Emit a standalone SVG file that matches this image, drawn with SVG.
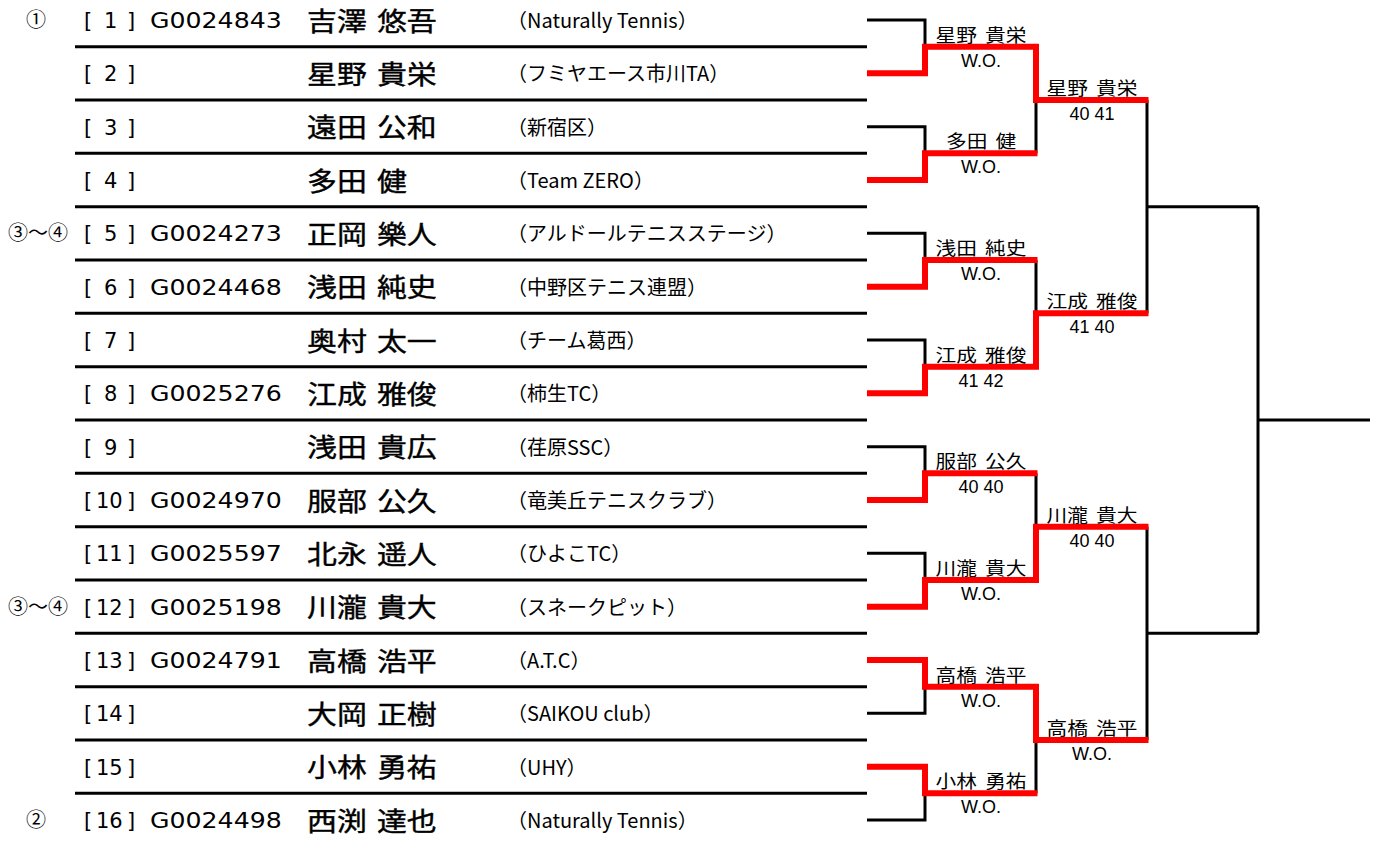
<svg xmlns="http://www.w3.org/2000/svg" width="1381" height="845" viewBox="0 0 1381 845">
<style>
.row{stroke:#000;stroke-width:3;fill:none}
.blk{stroke:#000;stroke-width:3;fill:none;stroke-linejoin:miter}
.win{stroke:#f00;stroke-width:6;fill:none;stroke-linejoin:miter}
.seed{font-family:"DejaVu Sans","Liberation Sans",sans-serif;font-size:21px;fill:#000}
.id{font-family:"DejaVu Sans","Liberation Sans",sans-serif;font-size:21px;fill:#000}
.nm{font-family:"Noto Sans CJK JP",sans-serif;font-size:26px;font-weight:normal;word-spacing:3px;fill:#000;stroke:#000;stroke-width:0.4}
.club{font-family:"Noto Sans CJK JP",sans-serif;font-size:20px;fill:#000}
.circ{font-family:"Noto Sans CJK JP",sans-serif;font-size:20px;text-anchor:middle;fill:#000}
.bn{font-family:"Noto Sans CJK JP",sans-serif;font-size:18px;text-anchor:middle;word-spacing:3px;fill:#000}
.sc{font-family:"Liberation Sans",Arial,sans-serif;font-size:18px;text-anchor:middle;fill:#000}
</style>
<rect width="1381" height="845" fill="#fff"/>

<g id="p1"><text class="circ" x="36" y="27">①</text><text class="seed" y="28"><tspan x="84">[</tspan><tspan x="104">1</tspan><tspan x="127">]</tspan></text><text class="id" transform="matrix(1.2 0 0 1 150 28)">G0024843</text><text class="nm" transform="matrix(1.15 0 0 1 307 30.5)">吉澤 悠吾</text><text class="club" x="507" y="28">（Naturally Tennis）</text><line class="row" x1="75" y1="46.7" x2="867" y2="46.7"/></g>
<g id="p2"><text class="seed" y="81.3"><tspan x="84">[</tspan><tspan x="104">2</tspan><tspan x="127">]</tspan></text><text class="nm" transform="matrix(1.15 0 0 1 307 83.8)">星野 貴栄</text><text class="club" x="507" y="81.3">（フミヤエース市川TA）</text><line class="row" x1="75" y1="100" x2="867" y2="100"/></g>
<g id="p3"><text class="seed" y="134.7"><tspan x="84">[</tspan><tspan x="104">3</tspan><tspan x="127">]</tspan></text><text class="nm" transform="matrix(1.15 0 0 1 307 137.2)">遠田 公和</text><text class="club" x="507" y="134.7">（新宿区）</text><line class="row" x1="75" y1="153.3" x2="867" y2="153.3"/></g>
<g id="p4"><text class="seed" y="188"><tspan x="84">[</tspan><tspan x="104">4</tspan><tspan x="127">]</tspan></text><text class="nm" transform="matrix(1.15 0 0 1 307 190.5)">多田 健</text><text class="club" x="507" y="188">（Team ZERO）</text><line class="row" x1="75" y1="206.7" x2="867" y2="206.7"/></g>
<g id="p5"><text class="circ" x="38" y="240.3">③～④</text><text class="seed" y="241.3"><tspan x="84">[</tspan><tspan x="104">5</tspan><tspan x="127">]</tspan></text><text class="id" transform="matrix(1.2 0 0 1 150 241.3)">G0024273</text><text class="nm" transform="matrix(1.15 0 0 1 307 243.8)">正岡 樂人</text><text class="club" x="507" y="241.3">（アルドールテニスステージ）</text><line class="row" x1="75" y1="260" x2="867" y2="260"/></g>
<g id="p6"><text class="seed" y="294.7"><tspan x="84">[</tspan><tspan x="104">6</tspan><tspan x="127">]</tspan></text><text class="id" transform="matrix(1.2 0 0 1 150 294.7)">G0024468</text><text class="nm" transform="matrix(1.15 0 0 1 307 297.2)">浅田 純史</text><text class="club" x="507" y="294.7">（中野区テニス連盟）</text><line class="row" x1="75" y1="313.3" x2="867" y2="313.3"/></g>
<g id="p7"><text class="seed" y="348"><tspan x="84">[</tspan><tspan x="104">7</tspan><tspan x="127">]</tspan></text><text class="nm" transform="matrix(1.15 0 0 1 307 350.5)">奥村 太一</text><text class="club" x="507" y="348">（チーム葛西）</text><line class="row" x1="75" y1="366.7" x2="867" y2="366.7"/></g>
<g id="p8"><text class="seed" y="401.3"><tspan x="84">[</tspan><tspan x="104">8</tspan><tspan x="127">]</tspan></text><text class="id" transform="matrix(1.2 0 0 1 150 401.3)">G0025276</text><text class="nm" transform="matrix(1.15 0 0 1 307 403.8)">江成 雅俊</text><text class="club" x="507" y="401.3">（柿生TC）</text><line class="row" x1="75" y1="420" x2="867" y2="420"/></g>
<g id="p9"><text class="seed" y="454.7"><tspan x="84">[</tspan><tspan x="104">9</tspan><tspan x="127">]</tspan></text><text class="nm" transform="matrix(1.15 0 0 1 307 457.2)">浅田 貴広</text><text class="club" x="507" y="454.7">（荏原SSC）</text><line class="row" x1="75" y1="473.3" x2="867" y2="473.3"/></g>
<g id="p10"><text class="seed" y="508"><tspan x="84">[</tspan><tspan x="96">10</tspan><tspan x="127">]</tspan></text><text class="id" transform="matrix(1.2 0 0 1 150 508)">G0024970</text><text class="nm" transform="matrix(1.15 0 0 1 307 510.5)">服部 公久</text><text class="club" x="507" y="508">（竜美丘テニスクラブ）</text><line class="row" x1="75" y1="526.7" x2="867" y2="526.7"/></g>
<g id="p11"><text class="seed" y="561.3"><tspan x="84">[</tspan><tspan x="96">11</tspan><tspan x="127">]</tspan></text><text class="id" transform="matrix(1.2 0 0 1 150 561.3)">G0025597</text><text class="nm" transform="matrix(1.15 0 0 1 307 563.8)">北永 遥人</text><text class="club" x="507" y="561.3">（ひよこTC）</text><line class="row" x1="75" y1="580" x2="867" y2="580"/></g>
<g id="p12"><text class="circ" x="38" y="613.7">③～④</text><text class="seed" y="614.7"><tspan x="84">[</tspan><tspan x="96">12</tspan><tspan x="127">]</tspan></text><text class="id" transform="matrix(1.2 0 0 1 150 614.7)">G0025198</text><text class="nm" transform="matrix(1.15 0 0 1 307 617.2)">川瀧 貴大</text><text class="club" x="507" y="614.7">（スネークピット）</text><line class="row" x1="75" y1="633.3" x2="867" y2="633.3"/></g>
<g id="p13"><text class="seed" y="668"><tspan x="84">[</tspan><tspan x="96">13</tspan><tspan x="127">]</tspan></text><text class="id" transform="matrix(1.2 0 0 1 150 668)">G0024791</text><text class="nm" transform="matrix(1.15 0 0 1 307 670.5)">高橋 浩平</text><text class="club" x="507" y="668">（A.T.C）</text><line class="row" x1="75" y1="686.7" x2="867" y2="686.7"/></g>
<g id="p14"><text class="seed" y="721.3"><tspan x="84">[</tspan><tspan x="96">14</tspan><tspan x="127">]</tspan></text><text class="nm" transform="matrix(1.15 0 0 1 307 723.8)">大岡 正樹</text><text class="club" x="507" y="721.3">（SAIKOU club）</text><line class="row" x1="75" y1="740" x2="867" y2="740"/></g>
<g id="p15"><text class="seed" y="774.7"><tspan x="84">[</tspan><tspan x="96">15</tspan><tspan x="127">]</tspan></text><text class="nm" transform="matrix(1.15 0 0 1 307 777.2)">小林 勇祐</text><text class="club" x="507" y="774.7">（UHY）</text><line class="row" x1="75" y1="793.3" x2="867" y2="793.3"/></g>
<g id="p16"><text class="circ" x="36" y="827">②</text><text class="seed" y="828"><tspan x="84">[</tspan><tspan x="96">16</tspan><tspan x="127">]</tspan></text><text class="id" transform="matrix(1.2 0 0 1 150 828)">G0024498</text><text class="nm" transform="matrix(1.15 0 0 1 307 830.5)">西渕 達也</text><text class="club" x="507" y="828">（Naturally Tennis）</text></g>

<g id="connectors">
<path class="blk" d="M867 20H925V46.7M867 126.7H925V153.3M867 233.3H925V260M867 340H925V366.7M867 446.7H925V473.3M867 553.3H925V580M867 713.3H925V686.7M867 820H925V793.3"/>
<path class="blk" d="M1036 100V153.3M1036 260V313.3M1036 473.3V526.7M1036 740V793.3"/>
<path class="blk" d="M1147 100V313.3M1147 206.7H1258M1147 526.7V740M1147 633.3H1258M1258 206.7V633.3M1258 420H1370"/>
<path class="win" d="M867 73.3H925V46.7H1036V100H1148.5"/>
<path class="win" d="M867 180H925V153.3H1037.5"/>
<path class="win" d="M867 286.7H925V260H1037.5"/>
<path class="win" d="M867 393.3H925V366.7H1036V313.3H1148.5"/>
<path class="win" d="M867 500H925V473.3H1037.5"/>
<path class="win" d="M867 606.7H925V580H1036V526.7H1148.5"/>
<path class="win" d="M867 660H925V686.7H1036V740H1148.5"/>
<path class="win" d="M867 766.7H925V793.3H1037.5"/>
</g>

<g id="r1m1"><text class="bn" transform="matrix(1.15 0 0 1 981 41.7)">星野 貴栄</text><text class="sc" x="981" y="66.7">W.O.</text></g>
<g id="r1m2"><text class="bn" transform="matrix(1.15 0 0 1 981 148.3)">多田 健</text><text class="sc" x="981" y="173.3">W.O.</text></g>
<g id="r1m3"><text class="bn" transform="matrix(1.15 0 0 1 981 255)">浅田 純史</text><text class="sc" x="981" y="280">W.O.</text></g>
<g id="r1m4"><text class="bn" transform="matrix(1.15 0 0 1 981 361.7)">江成 雅俊</text><text class="sc" x="981" y="386.7">41 42</text></g>
<g id="r1m5"><text class="bn" transform="matrix(1.15 0 0 1 981 468.3)">服部 公久</text><text class="sc" x="981" y="493.3">40 40</text></g>
<g id="r1m6"><text class="bn" transform="matrix(1.15 0 0 1 981 575)">川瀧 貴大</text><text class="sc" x="981" y="600">W.O.</text></g>
<g id="r1m7"><text class="bn" transform="matrix(1.15 0 0 1 981 681.7)">高橋 浩平</text><text class="sc" x="981" y="706.7">W.O.</text></g>
<g id="r1m8"><text class="bn" transform="matrix(1.15 0 0 1 981 788.3)">小林 勇祐</text><text class="sc" x="981" y="813.3">W.O.</text></g>
<g id="r2m1"><text class="bn" transform="matrix(1.15 0 0 1 1092 95)">星野 貴栄</text><text class="sc" x="1092" y="120">40 41</text></g>
<g id="r2m2"><text class="bn" transform="matrix(1.15 0 0 1 1092 308.3)">江成 雅俊</text><text class="sc" x="1092" y="333.3">41 40</text></g>
<g id="r2m3"><text class="bn" transform="matrix(1.15 0 0 1 1092 521.7)">川瀧 貴大</text><text class="sc" x="1092" y="546.7">40 40</text></g>
<g id="r2m4"><text class="bn" transform="matrix(1.15 0 0 1 1092 735)">高橋 浩平</text><text class="sc" x="1092" y="760">W.O.</text></g>
</svg>
